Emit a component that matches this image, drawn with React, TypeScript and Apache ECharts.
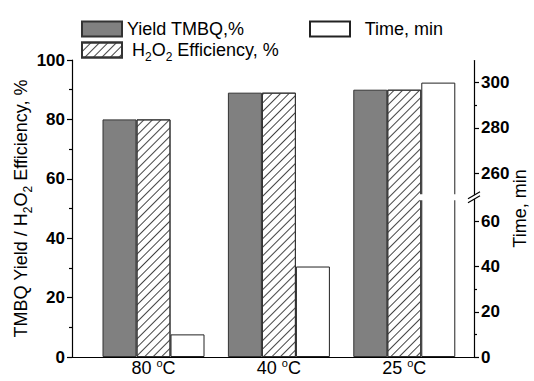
import React, { useEffect, useRef } from 'react';
import * as echarts from 'echarts';

const categories = ['80', '40', '25'];
const yieldTMBQ = [80, 89, 90];
const h2o2Efficiency = [80, 89, 90];
const timeMin = [10, 40, 300];
const seriesNames = ['Yield TMBQ,%', 'H2O2 Efficiency, %', 'Time, min'];
const timeBreak = { start: 70, end: 250 };
const timeTicks = [0, 20, 40, 60, 260, 280, 300];

const FONT = '"Liberation Sans", Arial, sans-serif';

export default function App() {
  const ref = useRef<HTMLDivElement>(null);
  useEffect(() => {
    const chart = echarts.init(ref.current!, null, { renderer: 'svg' });
    const xs = categories.map((_, i) => i + 1);
    const BW = 34;
    const axisLineStyle = { color: '#000', width: 1.2 };
    const subRich = {
      n: { fontFamily: FONT, fontSize: 18, lineHeight: 26, color: '#000' },
      s: { fontFamily: FONT, fontSize: 12, lineHeight: 12, verticalAlign: 'bottom', color: '#000' },
    };
    const option: any = {
      animation: false,
      backgroundColor: '#fff',
      grid: { left: 72, right: 60, top: 60, bottom: 24, outerBoundsMode: 'none' },
      legend: [
        {
          left: 81, top: 20, padding: 0, icon: 'rect', itemWidth: 40, itemHeight: 15,
          data: [seriesNames[0]],
          textStyle: { fontFamily: FONT, fontSize: 18, color: '#000' },
        },
        {
          left: 81, top: 41, padding: 0, icon: 'rect', itemWidth: 40, itemHeight: 15,
          data: [seriesNames[1]],
          formatter: () => '{n| H}{s|2}{n|O}{s|2}{n| Efficiency, %}',
          textStyle: { fontFamily: FONT, fontSize: 18, color: '#000', rich: subRich },
        },
        {
          left: 309, top: 20, padding: 0, icon: 'rect', itemWidth: 40, itemHeight: 15,
          data: [seriesNames[2]],
          formatter: (n: string) => '  ' + n,
          textStyle: { fontFamily: FONT, fontSize: 18, color: '#000' },
        },
      ],
      xAxis: {
        type: 'value',
        min: 0.35,
        max: 3.556,
        splitLine: { show: false },
        axisTick: { show: false },
        axisLine: { show: true, lineStyle: axisLineStyle },
        axisLabel: {
          customValues: xs,
          margin: 0,
          formatter: (v: number) => '{n|' + categories[Math.round(v) - 1] + ' }{o|o}{n|C}',
          rich: {
            n: { fontFamily: FONT, fontSize: 18, lineHeight: 22, color: '#000' },
            o: { fontFamily: FONT, fontSize: 11, lineHeight: 11, verticalAlign: 'top', color: '#000' },
          },
        },
      },
      yAxis: [
        {
          type: 'value',
          min: 0,
          max: 100,
          interval: 20,
          position: 'left',
          splitLine: { show: false },
          axisLine: { show: true, lineStyle: axisLineStyle },
          axisTick: { show: true, length: 5, lineStyle: axisLineStyle },
          minorTick: { show: true, splitNumber: 2, length: 3, lineStyle: axisLineStyle },
          axisLabel: { fontFamily: FONT, fontSize: 17, fontWeight: 'bold', color: '#000', margin: 7 },
          name: '{n|TMBQ Yield / H}{s|2}{n|O}{s|2}{n| Efficiency, %}',
          nameLocation: 'middle',
          nameRotate: 90,
          nameGap: 38,
          nameMoveOverlap: false,
          nameTextStyle: { fontFamily: FONT, fontSize: 18, color: '#000', rich: subRich },
        },
        {
          type: 'value',
          min: 0,
          max: 310,
          interval: 20,
          position: 'right',
          breaks: [{ start: timeBreak.start, end: timeBreak.end, gap: '1%' }],
          breakArea: { show: false },
          splitLine: { show: false },
          axisLine: { show: true, lineStyle: axisLineStyle },
          axisTick: { show: true, length: 5, lineStyle: axisLineStyle, customValues: timeTicks },
          minorTick: { show: true, splitNumber: 2, length: 3, lineStyle: axisLineStyle },
          axisLabel: {
            customValues: timeTicks,
            fontFamily: FONT, fontSize: 17, fontWeight: 'bold', color: '#000', margin: 7,
            formatter: (v: number) => String(v),
          },
          name: 'Time, min',
          nameLocation: 'middle',
          nameRotate: 90,
          nameGap: 37,
          nameMoveOverlap: false,
          nameTextStyle: { fontFamily: FONT, fontSize: 18, color: '#000' },
        },
      ],
      series: [
        {
          type: 'bar', name: seriesNames[0], barWidth: BW, barGap: '0%',
          data: yieldTMBQ.map((v, i) => [xs[i], v]),
          itemStyle: { color: '#808080', borderColor: '#333', borderWidth: 1 },
        },
        {
          type: 'bar', name: seriesNames[1], barWidth: BW, barGap: '0%',
          data: h2o2Efficiency.map((v, i) => [xs[i], v]),
          itemStyle: {
            color: '#fff', borderColor: '#333', borderWidth: 1,
            decal: {
              symbol: 'rect', symbolSize: 1, color: '#444',
              dashArrayX: [1, 0], dashArrayY: [1, 5], rotation: -Math.PI / 4,
            },
          },
        },
        {
          type: 'bar', name: seriesNames[2], barWidth: BW, barGap: '0%', yAxisIndex: 1,
          data: timeMin.map((v, i) => [xs[i], v]),
          itemStyle: { color: '#fff', borderColor: '#222', borderWidth: 1 },
        },
      ],
    };
    chart.setOption(option);

    // break marks on the right axis and across the broken bar
    const yLow = chart.convertToPixel({ yAxisIndex: 1 }, timeBreak.start) as number;
    const yHigh = chart.convertToPixel({ yAxisIndex: 1 }, timeBreak.end) as number;
    const yMid = (yLow + yHigh) / 2;
    const axisX = 534 - 60;
    const lastIdx = timeMin.length - 1;
    const cx = chart.convertToPixel({ xAxisIndex: 0 }, xs[lastIdx]) as number;
    const barL = cx + BW / 2;
    const barR = cx + BW * 1.5;
    chart.setOption({
      graphic: [
        { type: 'rect', shape: { x: barL - 2, y: yMid - 3, width: barR - barL + 4, height: 6 }, style: { fill: '#fff' }, z: 100 },
        { type: 'polygon', shape: { points: [[axisX - 5, yMid + 1], [axisX + 5, yMid - 5], [axisX + 5, yMid - 1], [axisX - 5, yMid + 5]] }, style: { fill: '#fff' }, z: 100 },
        { type: 'line', shape: { x1: axisX - 6, y1: yMid + 1.5, x2: axisX + 6, y2: yMid - 5.5 }, style: { stroke: '#000', lineWidth: 1.2 }, z: 101 },
        { type: 'line', shape: { x1: axisX - 6, y1: yMid + 5.5, x2: axisX + 6, y2: yMid - 1.5 }, style: { stroke: '#000', lineWidth: 1.2 }, z: 101 },
      ],
    });
    return () => chart.dispose();
  }, []);
  return (
    <div
      ref={ref}
      style={{ position: 'fixed', left: 0, top: 0, width: 534, height: 381, background: '#fff' }}
    />
  );
}
